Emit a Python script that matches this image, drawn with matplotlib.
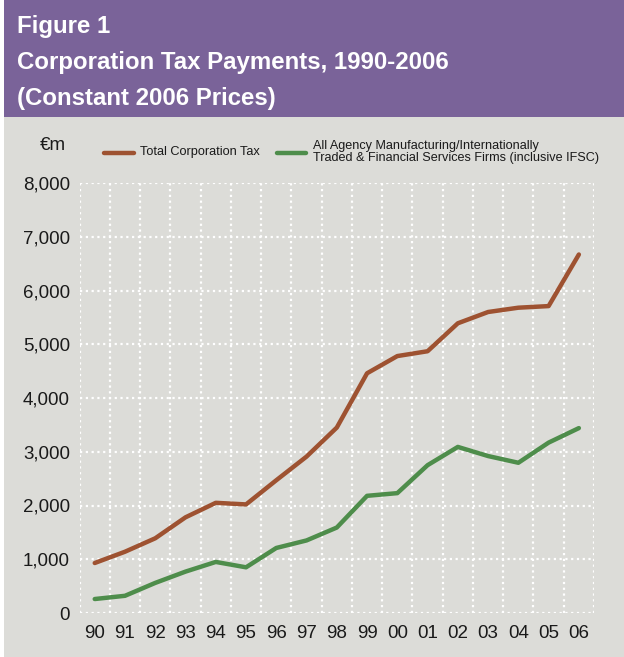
import matplotlib
matplotlib.use("Agg")
import matplotlib.pyplot as plt
from matplotlib.patches import Rectangle
from matplotlib.ticker import FuncFormatter

plt.rcParams['font.family'] = ['Liberation Sans', 'DejaVu Sans']

# Data (EUR million, constant 2006 prices)
years = ["90", "91", "92", "93", "94", "95", "96", "97", "98",
         "99", "00", "01", "02", "03", "04", "05", "06"]
total_ct = [930, 1140, 1390, 1780, 2050, 2020, 2470, 2910, 3450,
            4460, 4780, 4870, 5390, 5600, 5680, 5710, 6670]
agency_firms = [260, 320, 560, 770, 950, 850, 1210, 1350, 1590,
                2180, 2230, 2750, 3090, 2920, 2795, 3170, 3440]
y_ticks = [0, 1000, 2000, 3000, 4000, 5000, 6000, 7000, 8000]

W, H = 624, 657
PURPLE = "#7A6399"
PANEL = "#DCDCD8"
RED = "#9E5231"
GREEN = "#4E8D4B"

fig = plt.figure(figsize=(W / 100, H / 100), dpi=100)
fig.patch.set_facecolor("white")

def fx(px):
    return px / W

def fy(py):
    return 1 - py / H

# header band and chart panel
fig.patches.append(Rectangle((fx(4), fy(117)), fx(620), 117 / H,
                             transform=fig.transFigure, facecolor=PURPLE,
                             edgecolor="none", zorder=-5))
fig.patches.append(Rectangle((fx(4), 0), fx(620), fy(117),
                             transform=fig.transFigure, facecolor=PANEL,
                             edgecolor="none", zorder=-5))

for i, line in enumerate(["Figure 1",
                          "Corporation Tax Payments, 1990-2006",
                          "(Constant 2006 Prices)"]):
    fig.text(fx(17), fy(27 + 35.5 * i), line, color="white",
             fontsize=17.3, fontweight="bold", va="center", ha="left")

ax_left, ax_right, ax_top, ax_bottom = 79.6, 594, 183, 613
ax = fig.add_axes([fx(ax_left), fy(ax_bottom),
                   fx(ax_right - ax_left), (ax_bottom - ax_top) / H])
ax.set_facecolor("none")
ax.set_zorder(2)

x = list(range(len(years)))
ax.plot(x, total_ct, color=RED, lw=3.2, solid_capstyle="round", zorder=3)
ax.plot(x, agency_firms, color=GREEN, lw=3.2, solid_capstyle="round", zorder=3)

ax.set_xlim(-0.5, len(years) - 0.5)
ax.set_ylim(0, 8000)

# dotted white grid
for yv in y_ticks:
    ax.axhline(yv, color="white", lw=1.6, ls=(0, (1, 1.6)), zorder=1)
for xv in [i - 0.5 for i in range(len(years) + 1)]:
    ax.axvline(xv, color="white", lw=1.6, ls=(0, (1, 1.6)), zorder=1)

for s in ax.spines.values():
    s.set_visible(False)

ax.set_xticks(x)
ax.set_xticklabels(years)
ax.set_yticks(y_ticks)
ax.yaxis.set_major_formatter(FuncFormatter(lambda v, p: f"{int(v):,}"))
ax.tick_params(axis="both", length=0, labelsize=13.5, colors="#1a1a1a")
ax.tick_params(axis="y", pad=7)
ax.tick_params(axis="x", pad=9)

# unit label and legend
fig.text(fx(40), fy(145), "€m", fontsize=13.5, color="#1a1a1a",
         va="center", ha="left")
fig.add_artist(plt.Line2D([fx(104), fx(134)], [fy(153), fy(153)],
                          transform=fig.transFigure, color=RED, lw=3.2,
                          solid_capstyle="round"))
fig.text(fx(140), fy(152), "Total Corporation Tax", fontsize=9.2,
         color="#1a1a1a", va="center", ha="left")
fig.add_artist(plt.Line2D([fx(277), fx(306)], [fy(153), fy(153)],
                          transform=fig.transFigure, color=GREEN, lw=3.2,
                          solid_capstyle="round"))
fig.text(fx(313), fy(152),
         "All Agency Manufacturing/Internationally\n"
         "Traded & Financial Services Firms (inclusive IFSC)",
         fontsize=9.1, color="#1a1a1a", va="center", ha="left",
         linespacing=1.05)

fig.savefig("out.png", dpi=100, facecolor=fig.get_facecolor())
